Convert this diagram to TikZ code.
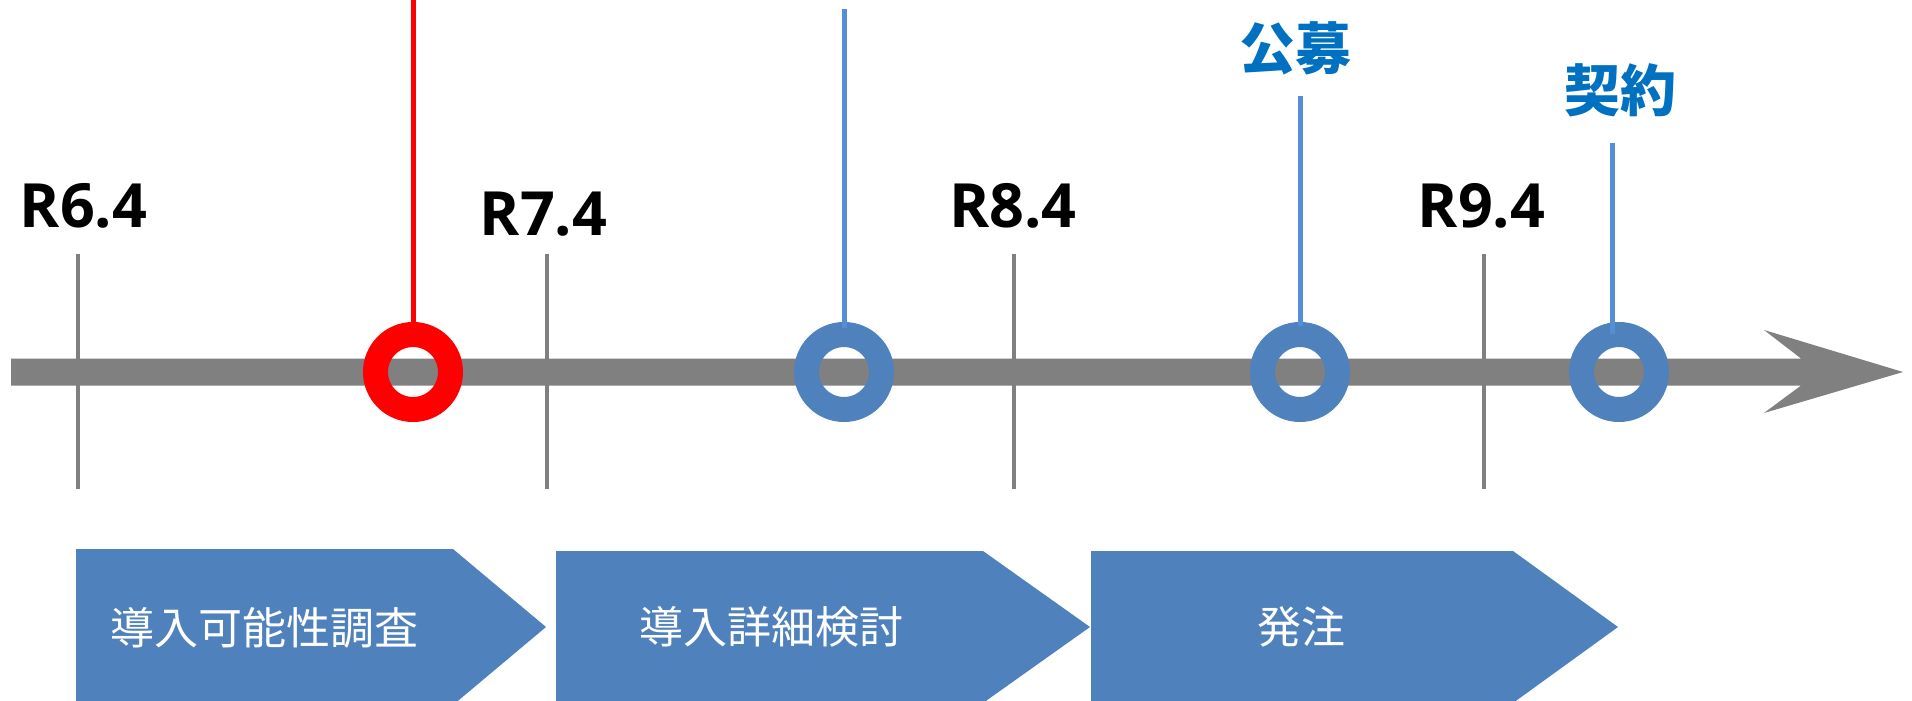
\documentclass[tikz,border=0pt]{standalone}
\usepackage{fontspec}
\setmainfont{Noto Sans CJK JP}
\newfontfamily\latinfont{Open Sans}
\newfontfamily\jpfont{Noto Sans CJK JP}
\definecolor{axisgray}{HTML}{808080}
\definecolor{ringblue}{HTML}{4F81BD}
\definecolor{lineblue}{HTML}{558ED5}
\definecolor{labelblue}{HTML}{0070C0}
\definecolor{ringred}{HTML}{FF0000}
\tikzset{
  tickline/.style={draw=axisgray, line width=4pt},
  datelabel/.style={font=\latinfont\bfseries\fontsize{61}{70}\selectfont, text=black, anchor=base, inner sep=0pt},
  ring/.style={circle, minimum size=75pt, inner sep=0pt, line width=25pt},
  stemline/.style={line width=5pt},
  eventlabel/.style={font=\jpfont\bfseries\fontsize{56}{64}\selectfont, text=labelblue, inner sep=0pt},
  chevron/.style={fill=ringblue, draw=none},
  phaselabel/.style={font=\jpfont\fontsize{44}{50}\selectfont, text=white, inner sep=0pt}
}
\begin{document}
\begin{tikzpicture}[x=1pt,y=-1pt]
\useasboundingbox (0,0) rectangle (1912,701);
\clip (0,0) rectangle (1912,701);
% ticks
\foreach \n/\x in {a/78,b/547,c/1014,d/1484}{
  \coordinate (tt\n) at (\x,254);
  \coordinate (tb\n) at (\x,489);
  \draw[tickline] (tt\n) -- (tb\n);
}
% axis arrow
\fill[axisgray] (11,358.5) -- (1801,358.5) -- (1764,330) -- (1903,372) -- (1764,413) -- (1801,385.5) -- (11,385.5) -- cycle;
% date labels
\node[datelabel] (r6) at (83.5,227) {R6.4};
\node[datelabel] (r7) at (543.5,235) {R7.4};
\node[datelabel] (r8) at (1013,227) {R8.4};
\node[datelabel] (r9) at (1481.5,227) {R9.4};
% stems
\coordinate (s1) at (413,0);
\coordinate (s2) at (844,9);
\coordinate (s3) at (1300,96);
\coordinate (s4) at (1612,143);
\coordinate (e4) at (1612,330);
% rings
\node[ring, draw=ringred] (m1) at (413,372) {};
\node[ring, draw=ringblue] (m2) at (844,372) {};
\node[ring, draw=ringblue] (m3) at (1300,372) {};
\node[ring, draw=ringblue] (m4) at (1619,372) {};
\draw[stemline, draw=ringred] (s1) -- (m1.north);
\draw[stemline, draw=lineblue] (s2) -- ([yshift=-6pt]m2.north);
\draw[stemline, draw=lineblue] (s3) -- ([yshift=-4pt]m3.north);
\draw[stemline, draw=lineblue] (s4) -- ([yshift=-12pt]s4 |- m4.north);
% event labels
\node[eventlabel] (kobo) at (1295.5,48) {公募};
\node[eventlabel] (keiyaku) at (1620,90) {契約};
% chevrons
\fill[chevron] (76,549) -- (453,549) -- (546,627) -- (453,705) -- (76,705) -- cycle;
\fill[chevron] (556,551) -- (983,551) -- (1090,627) -- (983,703) -- (556,703) -- cycle;
\fill[chevron] (1091,551) -- (1513,551) -- (1618,627) -- (1513,703) -- (1091,703) -- cycle;
\node[phaselabel] (p1) at (264.5,627.5) {導入可能性調査};
\node[phaselabel] (p2) at (771,627) {導入詳細検討};
\node[phaselabel] (p3) at (1301.5,627) {発注};
\end{tikzpicture}
\end{document}
